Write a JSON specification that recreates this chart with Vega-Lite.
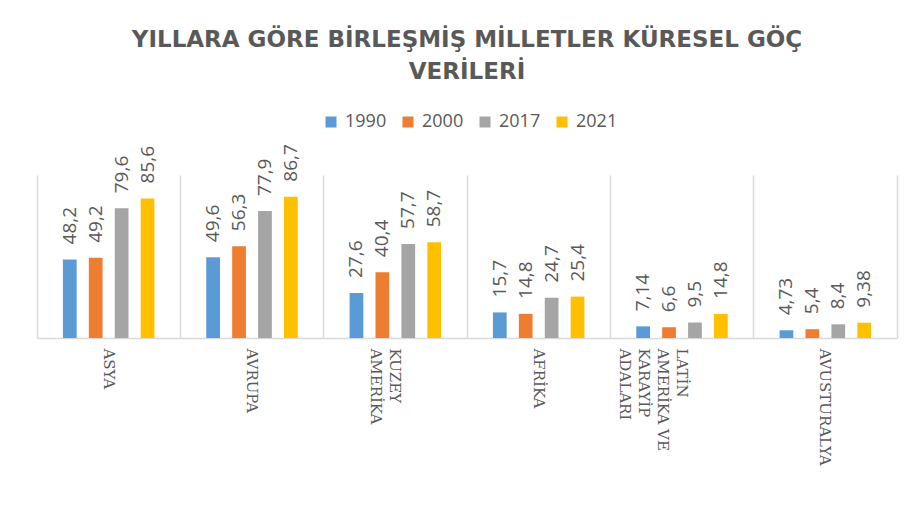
{
  "$schema": "https://vega.github.io/schema/vega-lite/v6.json",
  "autosize": {"type": "none"},
  "width": 860,
  "height": 163,
  "padding": {"left": 37, "top": 175, "right": 22, "bottom": 173},
  "background": "white",
  "config": {
    "locale": {"number": {"decimal": ",", "thousands": ".", "grouping": [3], "currency": ["", " TL"]}},
    "view": {"stroke": null}
  },
  "title": {
    "text": ["YILLARA GÖRE BİRLEŞMİŞ MİLLETLER KÜRESEL GÖÇ", "VERİLERİ"],
    "font": "DejaVu Sans",
    "fontSize": 23,
    "fontWeight": "bold",
    "color": "#595959",
    "lineHeight": 32,
    "anchor": "middle",
    "frame": "group",
    "offset": 29
  },
  "data": {
    "values": [
      {"region": "ASYA", "year": "1990", "value": 48.2},
      {"region": "ASYA", "year": "2000", "value": 49.2},
      {"region": "ASYA", "year": "2017", "value": 79.6},
      {"region": "ASYA", "year": "2021", "value": 85.6},
      {"region": "AVRUPA", "year": "1990", "value": 49.6},
      {"region": "AVRUPA", "year": "2000", "value": 56.3},
      {"region": "AVRUPA", "year": "2017", "value": 77.9},
      {"region": "AVRUPA", "year": "2021", "value": 86.7},
      {"region": "KUZEY AMERİKA", "year": "1990", "value": 27.6},
      {"region": "KUZEY AMERİKA", "year": "2000", "value": 40.4},
      {"region": "KUZEY AMERİKA", "year": "2017", "value": 57.7},
      {"region": "KUZEY AMERİKA", "year": "2021", "value": 58.7},
      {"region": "AFRİKA", "year": "1990", "value": 15.7},
      {"region": "AFRİKA", "year": "2000", "value": 14.8},
      {"region": "AFRİKA", "year": "2017", "value": 24.7},
      {"region": "AFRİKA", "year": "2021", "value": 25.4},
      {"region": "LATİN AMERİKA VE KARAYİP ADALARI", "year": "1990", "value": 7.14},
      {"region": "LATİN AMERİKA VE KARAYİP ADALARI", "year": "2000", "value": 6.6},
      {"region": "LATİN AMERİKA VE KARAYİP ADALARI", "year": "2017", "value": 9.5},
      {"region": "LATİN AMERİKA VE KARAYİP ADALARI", "year": "2021", "value": 14.8},
      {"region": "AVUSTURALYA", "year": "1990", "value": 4.73},
      {"region": "AVUSTURALYA", "year": "2000", "value": 5.4},
      {"region": "AVUSTURALYA", "year": "2017", "value": 8.4},
      {"region": "AVUSTURALYA", "year": "2021", "value": 9.38}
    ]
  },
  "encoding": {
    "x": {
      "field": "region",
      "type": "nominal",
      "sort": null,
      "scale": {"paddingInner": 0, "paddingOuter": 0},
      "axis": {
        "title": null,
        "labelAngle": 90,
        "labelFont": "DejaVu Serif",
        "labelFontSize": 15,
        "labelColor": "#595959",
        "labelLineHeight": 19,
        "labelPadding": 10,
        "labelExpr": "datum.label == 'KUZEY AMERİKA' ? ['KUZEY', 'AMERİKA'] : datum.label == 'LATİN AMERİKA VE KARAYİP ADALARI' ? ['LATİN', 'AMERİKA VE', 'KARAYİP', 'ADALARI'] : datum.label",
        "ticks": false,
        "domainColor": "#d9d9d9",
        "domainWidth": 1.5,
        "grid": true,
        "gridColor": "#d9d9d9",
        "gridWidth": 1.5,
        "bandPosition": 0
      }
    },
    "xOffset": {
      "field": "year",
      "type": "nominal",
      "scale": {"paddingInner": 0.47, "paddingOuter": 1.155}
    },
    "y": {
      "field": "value",
      "type": "quantitative",
      "scale": {"domain": [0, 100], "nice": false},
      "axis": {
        "orient": "right",
        "title": null,
        "labels": false,
        "ticks": false,
        "grid": false,
        "domain": true,
        "domainColor": "#d9d9d9",
        "domainWidth": 1.5
      }
    }
  },
  "layer": [
    {
      "mark": {"type": "bar"},
      "encoding": {
        "color": {
          "field": "year",
          "type": "nominal",
          "scale": {"domain": ["1990", "2000", "2017", "2021"], "range": ["#5B9BD5", "#ED7D31", "#A5A5A5", "#FFC000"]},
          "legend": {
            "title": null,
            "orient": "none",
            "direction": "horizontal",
            "legendX": 285,
            "legendY": -62,
            "padding": 0,
            "symbolType": "square",
            "symbolSize": 121,
            "symbolStrokeWidth": 0,
            "labelFont": "Open Sans",
            "labelFontSize": 18,
            "labelColor": "#595959",
            "labelOffset": 5,
            "columnPadding": 12
          }
        }
      }
    },
    {
      "mark": {
        "type": "text",
        "angle": 270,
        "align": "left",
        "baseline": "middle",
        "dx": 15,
        "font": "Open Sans",
        "fontSize": 19,
        "color": "#595959"
      },
      "encoding": {
        "text": {"field": "value", "type": "quantitative", "format": "~g"}
      }
    }
  ]
}
